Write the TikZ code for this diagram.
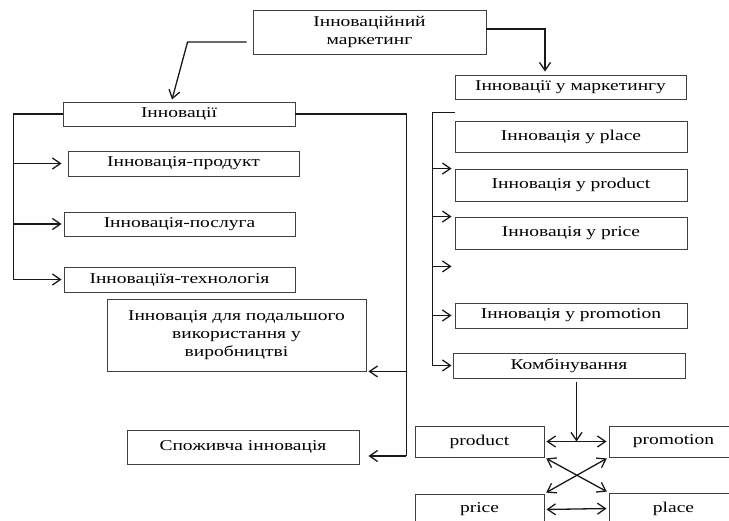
\documentclass[tikz,border=0pt]{standalone}
\usepackage{fontspec}
\setmainfont{Liberation Serif}[FakeStretch=1.3]
\usetikzlibrary{arrows.meta,calc}
\begin{document}
\begin{tikzpicture}[x=1pt,y=-1pt,
 box/.style={draw=black!75,line width=0.9pt,inner sep=0pt,align=center,font=\fontsize{15}{18}\selectfont},
 wh/.style 2 args={minimum width=#1pt,minimum height=#2pt},
 conn/.style={draw=black!90,line width=1.3pt},
 arr/.style={conn,-{Straight Barb[length=8pt,width=11pt]}},
 darr/.style={conn,{Straight Barb[length=8pt,width=11pt]}-{Straight Barb[length=8pt,width=11pt]},shorten <=2pt,shorten >=2pt}]
\useasboundingbox (0,0) rectangle (729,521);
\clip (0,0) rectangle (729,521);
% boxes
\node[box,wh={233}{44}] (top) at (369.5,32) {Інноваційний\\маркетинг};
\node[box,wh={231}{24}] (mkt) at (570.5,87) {Інновації у маркетингу};
\node[box,wh={232}{24}] (inn) at (179,114) {Інновації};
\node[box,wh={231}{25}] (prod) at (183.5,163.5) {Інновація-продукт};
\node[box,wh={231}{24}] (posl) at (179.5,224) {Інновація-послуга};
\node[box,wh={231}{25}] (tech) at (179.5,279.5) {Інноваціїя-технологія};
\node[box,wh={259}{72}] (dal) at (236.5,335) {Інновація для подальшого\\використання у\\виробництві};
\node[box,wh={232}{34}] (spoz) at (243,447) {Споживча інновація};
\node[box,wh={232}{31}] (place) at (571,136.5) {Інновація у place};
\node[box,wh={232}{32}] (iprod) at (571,185) {Інновація у product};
\node[box,wh={232}{32}] (price) at (571,233) {Інновація у price};
\node[box,wh={232}{25}] (promo) at (571,315.5) {Інновація у promotion};
\node[box,wh={232}{25}] (komb) at (569,365.5) {Комбінування};
\node[box,wh={129}{31}] (bprod) at (479.5,441.5) {product};
\node[box,wh={129}{31}] (bpromo) at (673.5,441.5) {promotion};
\node[box,wh={129}{31}] (bprice) at (479.5,509.5) {price};
\node[box,wh={129}{31}] (bplace) at (673.5,508.5) {place};
% top connectors
\draw[arr] ([xshift=-6pt,yshift=-10pt]top.west) -- ++(-59,0) -- ([xshift=-7pt,yshift=2pt]inn.north);
\draw[arr,shorten >=3pt] ([yshift=3pt]top.east) -| ([xshift=-25.5pt]mkt.north);
% left bracket
\draw[arr] (inn.west) -- ++(-49,0) coordinate (L) |- ([xshift=-2pt]tech.west);
\draw[arr,shorten >=6pt] (L |- prod.west) -- (prod.west);
\draw[arr,shorten >=2pt] (L |- posl.west) -- (posl.west);
% right of Innovatsii
\draw[conn] (inn.east) -- ++(111,0) coordinate (R) -- ($(R |- spoz.east)+(0,9)$);
\draw[arr,shorten >=2pt] (R |- dal.south east) -- (dal.south east);
\draw[arr,shorten >=9pt] ($(R |- spoz.east)+(0,9)$) -- ($(spoz.east)+(0,9)$);
% right bracket
\coordinate (B0) at ([yshift=8pt]place.north west);
\draw[arr] (B0) -- ++(-22,0) coordinate (B) |- ([xshift=-1pt]komb.west);
\draw[arr,shorten >=3pt] (B |- iprod.north west) -- (iprod.north west);
\draw[arr,shorten >=3pt] (B |- price.north west) -- (price.north west);
\coordinate (E) at ($(price.south west)+(0,17)$);
\draw[arr,shorten >=3pt] (B |- E) -- (E);
\draw[arr,shorten >=3pt] (B |- promo.west) -- (promo.west);
% bottom
\coordinate (M) at ($(bprod.east)!0.5!(bpromo.west)$);
\draw[arr] ([yshift=-4pt]komb.south -| M) -- (M);
\draw[darr] (bprod.east) -- (bpromo.west);
\draw[darr] (bprice.east) -- (bplace.west);
\draw[darr] (bprod.south east) -- (bplace.north west);
\draw[darr] (bpromo.south west) -- (bprice.north east);
\end{tikzpicture}
\end{document}
